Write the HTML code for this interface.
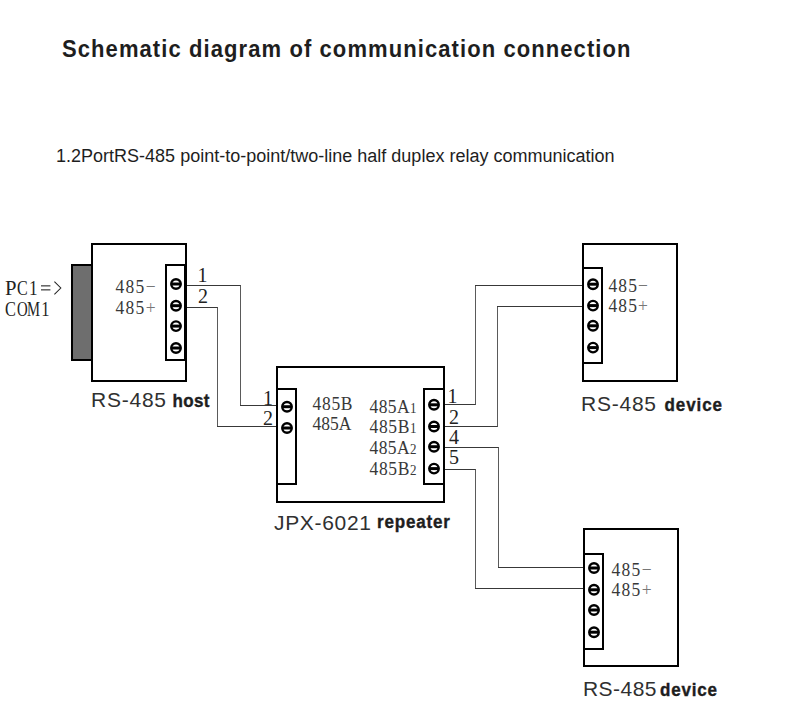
<!DOCTYPE html>
<html><head><meta charset="utf-8"><style>
html,body{margin:0;padding:0;background:#fff;width:812px;height:717px;overflow:hidden}
svg{display:block}
</style></head><body>
<svg width="812" height="717" viewBox="0 0 812 717">
<rect width="812" height="717" fill="#fff"/>
<line x1="185.5" y1="285.5" x2="241.0" y2="285.5" stroke="#383838" stroke-width="1.1"/>
<line x1="240.5" y1="285.5" x2="240.5" y2="405.5" stroke="#5a5a5a" stroke-width="1.05"/>
<line x1="240.0" y1="405.5" x2="277.5" y2="405.5" stroke="#383838" stroke-width="1.1"/>
<line x1="185.5" y1="307.5" x2="218.0" y2="307.5" stroke="#383838" stroke-width="1.1"/>
<line x1="217.5" y1="307.5" x2="217.5" y2="426.5" stroke="#5a5a5a" stroke-width="1.05"/>
<line x1="217.0" y1="426.5" x2="277.5" y2="426.5" stroke="#383838" stroke-width="1.1"/>
<line x1="443.5" y1="404.5" x2="476.0" y2="404.5" stroke="#383838" stroke-width="1.1"/>
<line x1="475.5" y1="285.5" x2="475.5" y2="404.5" stroke="#5a5a5a" stroke-width="1.05"/>
<line x1="475.0" y1="285.5" x2="583.5" y2="285.5" stroke="#383838" stroke-width="1.1"/>
<line x1="443.5" y1="426.5" x2="498.0" y2="426.5" stroke="#383838" stroke-width="1.1"/>
<line x1="497.5" y1="306.5" x2="497.5" y2="426.5" stroke="#5a5a5a" stroke-width="1.05"/>
<line x1="497.0" y1="306.5" x2="583.5" y2="306.5" stroke="#383838" stroke-width="1.1"/>
<line x1="443.5" y1="447.5" x2="499.0" y2="447.5" stroke="#383838" stroke-width="1.1"/>
<line x1="498.5" y1="447.5" x2="498.5" y2="567.5" stroke="#5a5a5a" stroke-width="1.05"/>
<line x1="498.0" y1="567.5" x2="584.5" y2="567.5" stroke="#383838" stroke-width="1.1"/>
<line x1="443.5" y1="469.5" x2="476.0" y2="469.5" stroke="#383838" stroke-width="1.1"/>
<line x1="475.5" y1="469.5" x2="475.5" y2="588.5" stroke="#5a5a5a" stroke-width="1.05"/>
<line x1="475.0" y1="588.5" x2="584.5" y2="588.5" stroke="#383838" stroke-width="1.1"/>
<rect x="92" y="244" width="94" height="137" fill="#fff" stroke="#000" stroke-width="2"/>
<rect x="72" y="265" width="20" height="95" fill="#6e6e6e" stroke="#000" stroke-width="2"/>
<rect x="166" y="265" width="19" height="95" fill="#fff" stroke="#000" stroke-width="2"/>
<g><circle cx="176" cy="284" r="4.75" fill="#fff" stroke="#000" stroke-width="2.4"/><line x1="171" y1="284" x2="181" y2="284" stroke="#000" stroke-width="3"/></g>
<g><circle cx="176" cy="305.7" r="4.75" fill="#fff" stroke="#000" stroke-width="2.4"/><line x1="171" y1="305.7" x2="181" y2="305.7" stroke="#000" stroke-width="3"/></g>
<g><circle cx="176" cy="326.1" r="4.75" fill="#fff" stroke="#000" stroke-width="2.4"/><line x1="171" y1="326.1" x2="181" y2="326.1" stroke="#000" stroke-width="3"/></g>
<g><circle cx="176" cy="348" r="4.75" fill="#fff" stroke="#000" stroke-width="2.4"/><line x1="171" y1="348" x2="181" y2="348" stroke="#000" stroke-width="3"/></g>
<rect x="277" y="367" width="167" height="135" fill="#fff" stroke="#000" stroke-width="2"/>
<rect x="277" y="389" width="19" height="95" fill="#fff" stroke="#000" stroke-width="2"/>
<rect x="424" y="389" width="20" height="95" fill="#fff" stroke="#000" stroke-width="2"/>
<g><circle cx="287" cy="406.7" r="4.75" fill="#fff" stroke="#000" stroke-width="2.4"/><line x1="282" y1="406.7" x2="292" y2="406.7" stroke="#000" stroke-width="3"/></g>
<g><circle cx="287" cy="428" r="4.75" fill="#fff" stroke="#000" stroke-width="2.4"/><line x1="282" y1="428" x2="292" y2="428" stroke="#000" stroke-width="3"/></g>
<g><circle cx="434" cy="404.8" r="4.75" fill="#fff" stroke="#000" stroke-width="2.4"/><line x1="429" y1="404.8" x2="439" y2="404.8" stroke="#000" stroke-width="3"/></g>
<g><circle cx="434" cy="426.5" r="4.75" fill="#fff" stroke="#000" stroke-width="2.4"/><line x1="429" y1="426.5" x2="439" y2="426.5" stroke="#000" stroke-width="3"/></g>
<g><circle cx="434" cy="446.7" r="4.75" fill="#fff" stroke="#000" stroke-width="2.4"/><line x1="429" y1="446.7" x2="439" y2="446.7" stroke="#000" stroke-width="3"/></g>
<g><circle cx="434" cy="468.6" r="4.75" fill="#fff" stroke="#000" stroke-width="2.4"/><line x1="429" y1="468.6" x2="439" y2="468.6" stroke="#000" stroke-width="3"/></g>
<rect x="583" y="244" width="94" height="137" fill="#fff" stroke="#000" stroke-width="2"/>
<rect x="583" y="268" width="19" height="95" fill="#fff" stroke="#000" stroke-width="2"/>
<g><circle cx="593" cy="284.2" r="4.75" fill="#fff" stroke="#000" stroke-width="2.4"/><line x1="588" y1="284.2" x2="598" y2="284.2" stroke="#000" stroke-width="3"/></g>
<g><circle cx="593" cy="305.6" r="4.75" fill="#fff" stroke="#000" stroke-width="2.4"/><line x1="588" y1="305.6" x2="598" y2="305.6" stroke="#000" stroke-width="3"/></g>
<g><circle cx="593" cy="325.8" r="4.75" fill="#fff" stroke="#000" stroke-width="2.4"/><line x1="588" y1="325.8" x2="598" y2="325.8" stroke="#000" stroke-width="3"/></g>
<g><circle cx="593" cy="347.6" r="4.75" fill="#fff" stroke="#000" stroke-width="2.4"/><line x1="588" y1="347.6" x2="598" y2="347.6" stroke="#000" stroke-width="3"/></g>
<rect x="584" y="529" width="94" height="137" fill="#fff" stroke="#000" stroke-width="2"/>
<rect x="584" y="554" width="19" height="95" fill="#fff" stroke="#000" stroke-width="2"/>
<g><circle cx="594" cy="568" r="4.75" fill="#fff" stroke="#000" stroke-width="2.4"/><line x1="589" y1="568" x2="599" y2="568" stroke="#000" stroke-width="3"/></g>
<g><circle cx="594" cy="589.8" r="4.75" fill="#fff" stroke="#000" stroke-width="2.4"/><line x1="589" y1="589.8" x2="599" y2="589.8" stroke="#000" stroke-width="3"/></g>
<g><circle cx="594" cy="610" r="4.75" fill="#fff" stroke="#000" stroke-width="2.4"/><line x1="589" y1="610" x2="599" y2="610" stroke="#000" stroke-width="3"/></g>
<g><circle cx="594" cy="632.2" r="4.75" fill="#fff" stroke="#000" stroke-width="2.4"/><line x1="589" y1="632.2" x2="599" y2="632.2" stroke="#000" stroke-width="3"/></g>
<text transform="translate(62.00,57.45) scale(1,1.07)" x="0" y="0" font-family="Liberation Sans" font-size="22" font-weight="bold" fill="#1e1e1e" textLength="568.50" lengthAdjust="spacing">Schematic diagram of communication connection</text>
<text transform="translate(56.00,162.46) scale(1,1.0)" x="0" y="0" font-family="Liberation Sans" font-size="18" font-weight="normal" fill="#1e1e1e" textLength="558.50" lengthAdjust="spacing">1.2PortRS-485 point-to-point/two-line half duplex relay communication</text>
<text transform="translate(115.50,292.86) scale(1,1.1)" x="0" y="0" font-family="Liberation Serif" font-size="17.5" font-weight="normal" fill="#383838" textLength="40.00" lengthAdjust="spacing">485<tspan fill="#777">−</tspan></text>
<text transform="translate(115.50,313.86) scale(1,1.1)" x="0" y="0" font-family="Liberation Serif" font-size="17.5" font-weight="normal" fill="#383838" textLength="40.00" lengthAdjust="spacing">485<tspan fill="#777">+</tspan></text>
<text transform="translate(197.50,282.40) scale(1,1.0)" x="0" y="0" font-family="Liberation Serif" font-size="20" font-weight="normal" fill="#222" textLength="3.50" lengthAdjust="spacing">1</text>
<text transform="translate(198.00,303.40) scale(1,1.0)" x="0" y="0" font-family="Liberation Serif" font-size="20" font-weight="normal" fill="#222" textLength="4.50" lengthAdjust="spacing">2</text>
<text transform="translate(91.00,407.12) scale(1,1.0)" x="0" y="0" font-family="Liberation Sans" font-size="21" font-weight="normal" fill="#303030" textLength="75.00" lengthAdjust="spacing">RS-485</text>
<text transform="translate(172.50,406.83) scale(1,1.13)" x="0" y="0" font-family="Liberation Sans" font-size="17" font-weight="bold" fill="#1e1e1e" stroke="#1e1e1e" stroke-width="0.35" textLength="37.00" lengthAdjust="spacing">host</text>
<text transform="translate(263.00,404.90) scale(1,1.0)" x="0" y="0" font-family="Liberation Serif" font-size="20" font-weight="normal" fill="#222" textLength="2.00" lengthAdjust="spacing">1</text>
<text transform="translate(263.00,425.40) scale(1,1.0)" x="0" y="0" font-family="Liberation Serif" font-size="20" font-weight="normal" fill="#222" textLength="8.00" lengthAdjust="spacing">2</text>
<text transform="translate(312.50,409.86) scale(1,1.1)" x="0" y="0" font-family="Liberation Serif" font-size="17.5" font-weight="normal" fill="#383838" textLength="40.00" lengthAdjust="spacing">485B</text>
<text transform="translate(312.50,430.36) scale(1,1.1)" x="0" y="0" font-family="Liberation Serif" font-size="17.5" font-weight="normal" fill="#383838" textLength="39.00" lengthAdjust="spacing">485A</text>
<text transform="translate(369.50,412.86) scale(1,1.1)" x="0" y="0" font-family="Liberation Serif" font-size="17.5" font-weight="normal" fill="#383838" textLength="47.00" lengthAdjust="spacing">485A<tspan font-size="13">1</tspan></text>
<text transform="translate(369.50,433.36) scale(1,1.1)" x="0" y="0" font-family="Liberation Serif" font-size="17.5" font-weight="normal" fill="#383838" textLength="47.00" lengthAdjust="spacing">485B<tspan font-size="13">1</tspan></text>
<text transform="translate(369.50,453.86) scale(1,1.1)" x="0" y="0" font-family="Liberation Serif" font-size="17.5" font-weight="normal" fill="#383838" textLength="47.00" lengthAdjust="spacing">485A<tspan font-size="13">2</tspan></text>
<text transform="translate(369.50,474.86) scale(1,1.1)" x="0" y="0" font-family="Liberation Serif" font-size="17.5" font-weight="normal" fill="#383838" textLength="47.00" lengthAdjust="spacing">485B<tspan font-size="13">2</tspan></text>
<text transform="translate(447.50,402.90) scale(1,1.0)" x="0" y="0" font-family="Liberation Serif" font-size="20" font-weight="normal" fill="#222" textLength="7.50" lengthAdjust="spacing">1</text>
<text transform="translate(449.00,423.90) scale(1,1.0)" x="0" y="0" font-family="Liberation Serif" font-size="20" font-weight="normal" fill="#222" textLength="5.50" lengthAdjust="spacing">2</text>
<text transform="translate(449.00,443.90) scale(1,1.0)" x="0" y="0" font-family="Liberation Serif" font-size="20" font-weight="normal" fill="#222" textLength="1.50" lengthAdjust="spacing">4</text>
<text transform="translate(449.00,464.40) scale(1,1.0)" x="0" y="0" font-family="Liberation Serif" font-size="20" font-weight="normal" fill="#222" textLength="6.50" lengthAdjust="spacing">5</text>
<text transform="translate(274.00,529.62) scale(1,1.0)" x="0" y="0" font-family="Liberation Sans" font-size="21" font-weight="normal" fill="#303030" textLength="97.00" lengthAdjust="spacing">JPX-6021</text>
<text transform="translate(377.00,528.33) scale(1,1.13)" x="0" y="0" font-family="Liberation Sans" font-size="17" font-weight="bold" fill="#1e1e1e" stroke="#1e1e1e" stroke-width="0.35" textLength="73.00" lengthAdjust="spacing">repeater</text>
<text transform="translate(608.50,291.86) scale(1,1.1)" x="0" y="0" font-family="Liberation Serif" font-size="17.5" font-weight="normal" fill="#383838" textLength="39.50" lengthAdjust="spacing">485<tspan fill="#777">−</tspan></text>
<text transform="translate(608.50,312.36) scale(1,1.1)" x="0" y="0" font-family="Liberation Serif" font-size="17.5" font-weight="normal" fill="#383838" textLength="39.50" lengthAdjust="spacing">485<tspan fill="#777">+</tspan></text>
<text transform="translate(581.00,410.62) scale(1,1.0)" x="0" y="0" font-family="Liberation Sans" font-size="21" font-weight="normal" fill="#303030" textLength="75.00" lengthAdjust="spacing">RS-485</text>
<text transform="translate(664.50,410.83) scale(1,1.13)" x="0" y="0" font-family="Liberation Sans" font-size="17" font-weight="bold" fill="#1e1e1e" stroke="#1e1e1e" stroke-width="0.35" textLength="57.50" lengthAdjust="spacing">device</text>
<text transform="translate(611.50,575.86) scale(1,1.1)" x="0" y="0" font-family="Liberation Serif" font-size="17.5" font-weight="normal" fill="#383838" textLength="40.00" lengthAdjust="spacing">485<tspan fill="#777">−</tspan></text>
<text transform="translate(611.50,595.86) scale(1,1.1)" x="0" y="0" font-family="Liberation Serif" font-size="17.5" font-weight="normal" fill="#383838" textLength="40.00" lengthAdjust="spacing">485<tspan fill="#777">+</tspan></text>
<text transform="translate(583.00,695.62) scale(1,1.0)" x="0" y="0" font-family="Liberation Sans" font-size="21" font-weight="normal" fill="#303030" textLength="73.50" lengthAdjust="spacing">RS-485</text>
<text transform="translate(660.00,696.33) scale(1,1.13)" x="0" y="0" font-family="Liberation Sans" font-size="17" font-weight="bold" fill="#1e1e1e" stroke="#1e1e1e" stroke-width="0.35" textLength="57.00" lengthAdjust="spacing">device</text>
<text transform="translate(10.65,295.00) scale(1,1.07)" x="0" y="0" text-anchor="middle" font-family="Liberation Serif" font-size="20" fill="#222" textLength="11.50" lengthAdjust="spacingAndGlyphs">P</text>
<text transform="translate(22.45,295.00) scale(1,1.07)" x="0" y="0" text-anchor="middle" font-family="Liberation Serif" font-size="20" fill="#222" textLength="10.70" lengthAdjust="spacingAndGlyphs">C</text>
<text transform="translate(33.30,295.00) scale(1,1.07)" x="0" y="0" text-anchor="middle" font-family="Liberation Serif" font-size="20" fill="#222" textLength="8.60" lengthAdjust="spacingAndGlyphs">1</text>
<rect x="41" y="285" width="9.4" height="1.6" fill="#6a6a6a"/><rect x="41" y="289" width="9.4" height="1.6" fill="#6a6a6a"/>
<polyline points="54.4,281.6 60.8,288 54.4,294.4" fill="none" stroke="#222" stroke-width="1.05"/>
<text transform="translate(10.55,316.00) scale(1,1.07)" x="0" y="0" text-anchor="middle" font-family="Liberation Serif" font-size="20" fill="#222" textLength="10.90" lengthAdjust="spacingAndGlyphs">C</text>
<text transform="translate(22.45,316.00) scale(1,1.07)" x="0" y="0" text-anchor="middle" font-family="Liberation Serif" font-size="20" fill="#222" textLength="10.70" lengthAdjust="spacingAndGlyphs">O</text>
<text transform="translate(33.50,316.00) scale(1,1.07)" x="0" y="0" text-anchor="middle" font-family="Liberation Serif" font-size="20" fill="#222" textLength="13.00" lengthAdjust="spacingAndGlyphs">M</text>
<text transform="translate(45.35,316.00) scale(1,1.07)" x="0" y="0" text-anchor="middle" font-family="Liberation Serif" font-size="20" fill="#222" textLength="8.30" lengthAdjust="spacingAndGlyphs">1</text>
</svg></body></html>
